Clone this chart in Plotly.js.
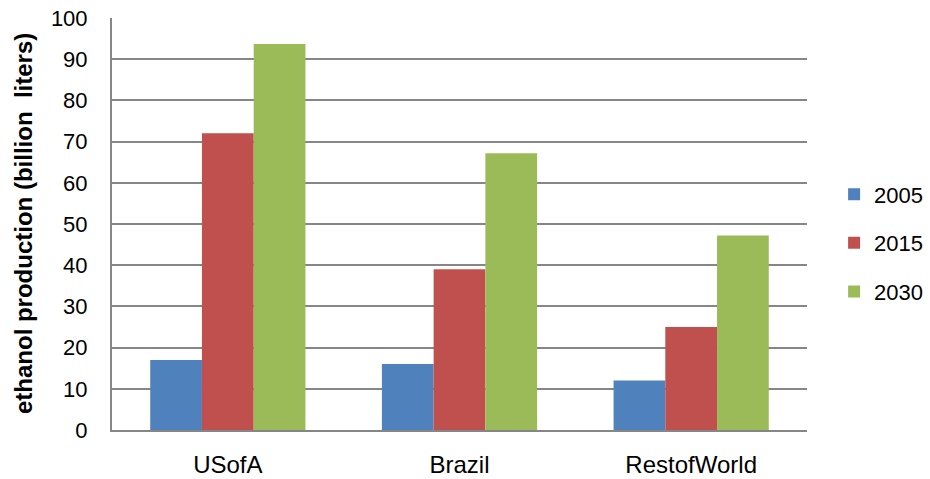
<!DOCTYPE html>
<html>
<head>
<meta charset="utf-8">
<script src="https://cdn.plot.ly/plotly-3.0.1.min.js"></script>
<style>html,body{margin:0;padding:0;background:#fff;}#chart{width:930px;height:479px;}</style>
</head>
<body>
<div id="chart"></div>
<script>
var categories = ["USofA", "Brazil", "RestofWorld"];
var seriesNames = ["2005", "2015", "2030"];
var values2005 = [17, 16, 12];
var values2015 = [72, 39, 25];
var values2030 = [93.7, 67.2, 47.2];
var colors = ["#4F81BD", "#C0504D", "#9BBB59"];
var yTicks = [0, 10, 20, 30, 40, 50, 60, 70, 80, 90, 100];
var yTitle = "ethanol production (billion  liters)";

var allValues = [values2005, values2015, values2030];
var traces = allValues.map(function (vals, i) {
  return {
    type: "bar",
    name: seriesNames[i],
    x: categories,
    y: vals,
    legendgroup: "g" + i,
    marker: { color: colors[i], line: { width: 0 } },
    hoverinfo: "x+y+name"
  };
});

var font = "Liberation Sans, Arial, sans-serif";
var layout = {
  width: 930,
  height: 479,
  margin: { l: 112, r: 123, t: 18, b: 49, autoexpand: false },
  paper_bgcolor: "#ffffff",
  plot_bgcolor: "#ffffff",
  barmode: "group",
  bargap: 0.33,
  bargroupgap: 0,
  font: { family: font, size: 20, color: "#000" },
  xaxis: {
    type: "category",
    showgrid: false,
    showline: true,
    linecolor: "#868686",
    linewidth: 2,
    ticks: "outside",
    ticklen: 12,
    tickcolor: "rgba(0,0,0,0)",
    tickfont: { family: font, size: 24, color: "#000" }
  },
  yaxis: {
    range: [0, 100],
    tickvals: yTicks,
    ticktext: yTicks.map(String),
    showgrid: true,
    gridcolor: "#868686",
    gridwidth: 2,
    showline: true,
    linecolor: "#868686",
    linewidth: 2,
    zeroline: false,
    ticks: "outside",
    ticklen: 18,
    tickcolor: "rgba(0,0,0,0)",
    tickfont: { family: font, size: 22, color: "#000" }
  },
  annotations: [{
    text: "<b>" + yTitle + "</b>",
    xref: "paper", yref: "paper",
    x: -0.128, y: 0.5,
    xanchor: "center", yanchor: "middle",
    textangle: -90,
    showarrow: false,
    font: { family: font, size: 24, color: "#000" }
  }],
  legend: {
    x: 1.039,
    xanchor: "left",
    y: 0.454,
    yanchor: "middle",
    font: { family: font, size: 22, color: "#000" },
    tracegroupgap: 17,
    bgcolor: "rgba(0,0,0,0)"
  },
  showlegend: true
};

Plotly.newPlot("chart", traces, layout, { displayModeBar: false, staticPlot: true });
</script>
</body>
</html>
